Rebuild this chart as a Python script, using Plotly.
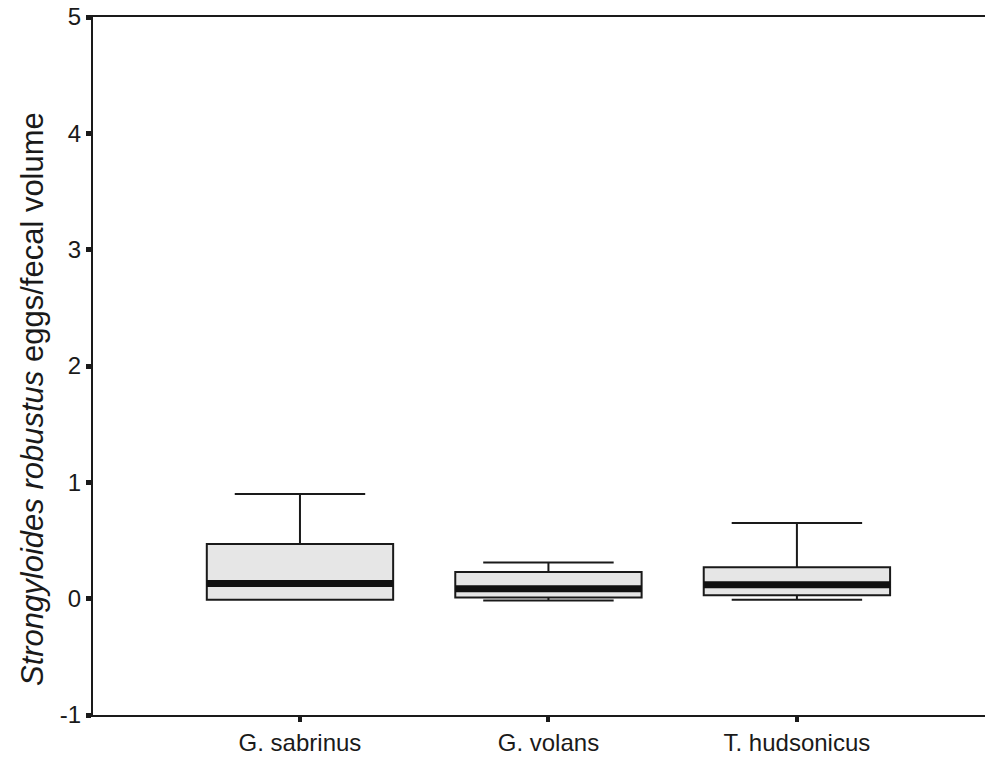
import plotly.graph_objects as go

categories = ["G. sabrinus", "G. volans", "T. hudsonicus"]
q1 = [-0.01, 0.01, 0.03]
median = [0.13, 0.085, 0.12]
q3 = [0.47, 0.23, 0.27]
lowerfence = [-0.01, -0.015, -0.01]
upperfence = [0.90, 0.31, 0.65]
y_ticks = [-1, 0, 1, 2, 3, 4, 5]
y_ticktext = ["-1", "0", "1", "2", "3", "4", "5"]
y_title = "<i>Strongyloides robustus</i> eggs/fecal volume"

box_width = 0.75
pos = list(range(len(categories)))

fig = go.Figure()
for i, c in enumerate(categories):
    fig.add_trace(go.Box(
        x=[pos[i]], q1=[q1[i]], median=[median[i]], q3=[q3[i]],
        lowerfence=[lowerfence[i]], upperfence=[upperfence[i]],
        width=box_width, whiskerwidth=0.7, boxpoints=False,
        fillcolor="#e6e6e6", line=dict(color="#1a1a1a", width=2),
        showlegend=False, hoverinfo="skip", name=c,
    ))
    # thick median bar
    fig.add_trace(go.Scatter(
        x=[pos[i] - box_width / 2, pos[i] + box_width / 2],
        y=[median[i], median[i]], mode="lines",
        line=dict(color="#111111", width=7), showlegend=False, hoverinfo="skip",
    ))

font_family = "Liberation Sans, Arial, sans-serif"
fig.update_layout(
    width=995, height=758,
    margin=dict(l=93, r=10, t=17, b=43),
    paper_bgcolor="white", plot_bgcolor="white",
    font=dict(family=font_family, color="#1a1a1a"),
    xaxis=dict(
        range=[-0.833, 2.757], tickmode="array", tickvals=pos, ticktext=categories,
        showline=True, linecolor="#1a1a1a", linewidth=2, mirror=True,
        ticks="outside", ticklen=5, tickwidth=4, tickcolor="#1a1a1a",
        showgrid=False, zeroline=False, tickfont=dict(size=24), automargin=False,
    ),
    yaxis=dict(
        range=[-1, 5], tickmode="array", tickvals=y_ticks, ticktext=y_ticktext,
        showline=True, linecolor="#1a1a1a", linewidth=2,
        ticks="outside", ticklen=5, tickwidth=5, tickcolor="#1a1a1a",
        showgrid=False, zeroline=False, tickfont=dict(size=24), automargin=False,
    ),
    annotations=[dict(
        text=y_title, textangle=-90, xref="paper", yref="paper",
        x=-0.0684, y=0.4527, xanchor="center", yanchor="middle",
        showarrow=False, font=dict(size=31),
    )],
)

fig.write_html("out.html")
